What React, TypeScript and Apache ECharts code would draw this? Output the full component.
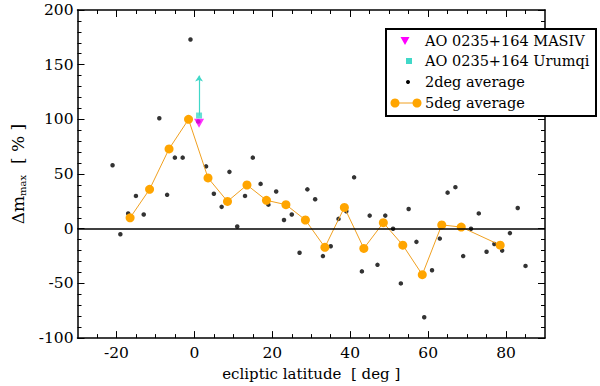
import React, { useEffect, useRef } from "react";
import * as echarts from "echarts";

// 2-degree averages
const avg2X = [-21, -19, -17, -15, -13, -9, -7, -5, -3, -1, 1, 3, 5, 7, 9, 11, 13, 15, 17, 19, 21, 23, 25, 27, 29, 31, 33, 35, 37, 39, 41, 43, 45, 47, 49, 51, 53, 55, 57, 59, 61, 63, 65, 67, 69, 71, 73, 75, 77, 79, 81, 83, 85];
const avg2Y = [58, -5, 14, 30, 13, 101, 31, 65, 65, 173, 98, 57, 32, 20, 52, 2, 30, 65, 41, 22, 34, 8, 13, -22, 36, 27, -25, -16, 9, 16, 47, -39, 12, -33, 12, 0, -50, 18, -12, -81, -38, -9, 33, 38, -25, 0, 14, -21, -14, -20, -4, 19, -34];

// 5-degree averages
const avg5X = [-16.5, -11.5, -6.5, -1.5, 3.5, 8.5, 13.5, 18.5, 23.5, 28.5, 33.5, 38.5, 43.5, 48.5, 53.5, 58.5, 63.5, 68.5, 78.5];
const avg5Y = [10, 36, 73, 100, 46.5, 25, 40, 26, 22, 8, -17, 19.5, -18, 5.5, -15, -42, 3.5, 1.5, -15];

// AO 0235+164
const masivPoint = [1.2, 96.5];
const urumqiPoint = [1.2, 103.5];
const urumqiUpper = 140;

// axes
const xMajorTicks = [-20, 0, 20, 40, 60, 80];
const xMinorTicks = [-25, -15, -10, -5, 5, 10, 15, 25, 30, 35, 45, 50, 55, 65, 70, 75, 85];

const legendNames = ["AO 0235+164 MASIV", "AO 0235+164 Urumqi", "2deg average", "5deg average"];

const FONT = "DejaVu Serif";

export default function App() {
  const ref = useRef<HTMLDivElement>(null);
  useEffect(() => {
    if (!ref.current) return;
    const chart = echarts.init(ref.current, null, { renderer: "svg" });
    const axisLine = { show: true, onZero: false, lineStyle: { color: "#000", width: 1.5 } };
    const hiddenLine = { show: false, onZero: false };
    const baseX = {
      type: "value",
      min: -30,
      max: 90,
      splitLine: { show: false },
      axisLine,
    };
    const baseY = {
      type: "value",
      min: -100,
      max: 200,
      interval: 50,
      splitLine: { show: false },
      axisLine,
      axisTick: { show: true, inside: true, length: 7, lineStyle: { color: "#000", width: 1 } },
      minorTick: { show: true, splitNumber: 5, length: 4, lineStyle: { color: "#000", width: 1 } },
    };
    const legendRows = [41, 61, 82, 103];
    const symX = 405;
    const textX = 425;
    chart.setOption({
      animation: false,
      backgroundColor: "#fff",
      textStyle: { fontFamily: FONT },
      grid: { left: 64, right: 55, top: 10, bottom: 40, containLabel: false },
      xAxis: [
        {
          ...baseX,
          position: "bottom",
          axisTick: { show: true, inside: true, length: 7, customValues: xMajorTicks, lineStyle: { color: "#000", width: 1 } },
          axisLabel: { show: true, customValues: xMajorTicks, color: "#000", fontFamily: FONT, fontSize: 15.5, margin: 7 },
          name: "ecliptic latitude  [ deg ]",
          nameLocation: "middle",
          nameGap: 25,
          nameTextStyle: { color: "#000", fontFamily: FONT, fontSize: 15 },
        },
        {
          ...baseX,
          position: "bottom",
          axisLine: hiddenLine,
          axisTick: { show: true, inside: true, length: 4, customValues: xMinorTicks, lineStyle: { color: "#000", width: 1 } },
          axisLabel: { show: false },
        },
        {
          ...baseX,
          position: "top",
          axisTick: { show: true, inside: true, length: 7, customValues: xMajorTicks, lineStyle: { color: "#000", width: 1 } },
          axisLabel: { show: false },
        },
        {
          ...baseX,
          position: "top",
          axisLine: hiddenLine,
          axisTick: { show: true, inside: true, length: 4, customValues: xMinorTicks, lineStyle: { color: "#000", width: 1 } },
          axisLabel: { show: false },
        },
      ],
      yAxis: [
        {
          ...baseY,
          position: "left",
          axisLabel: { show: true, color: "#000", fontFamily: FONT, fontSize: 15.5, margin: 4 },
          name: "{d|Δm}{s|max}{d|  [ % ]}",
          nameLocation: "middle",
          nameGap: 49,
          nameRotate: 90,
          nameTextStyle: {
            fontFamily: FONT,
            rich: {
              d: { fontFamily: FONT, fontSize: 17, color: "#000", lineHeight: 22 },
              s: { fontFamily: FONT, fontSize: 10, color: "#000", lineHeight: 22, padding: [9, 0, 0, 0] },
            },
          },
        },
        {
          ...baseY,
          position: "right",
          axisLabel: { show: false },
        },
      ],
      series: [
        {
          name: legendNames[2],
          type: "scatter",
          data: avg2X.map((x, i) => [x, avg2Y[i]]),
          symbol: "circle",
          symbolSize: 4.5,
          itemStyle: { color: "#000" },
          z: 3,
          markLine: {
            silent: true,
            symbol: ["none", "none"],
            label: { show: false },
            lineStyle: { color: "#000", width: 1.5, type: "solid" },
            data: [{ yAxis: 0 }],
          },
        },
        {
          name: legendNames[3],
          type: "line",
          data: avg5X.map((x, i) => [x, avg5Y[i]]),
          symbol: "circle",
          symbolSize: 9,
          showSymbol: true,
          lineStyle: { color: "#F0A020", width: 1 },
          itemStyle: { color: "#FFA500" },
          z: 4,
        },
        {
          name: legendNames[1],
          type: "scatter",
          data: [urumqiPoint],
          symbol: "rect",
          symbolSize: 6,
          itemStyle: { color: "#40D8C8" },
          z: 5,
          markLine: {
            silent: true,
            symbol: ["none", "arrow"],
            symbolSize: 6,
            label: { show: false },
            lineStyle: { color: "#40D8C8", width: 1.2, type: "solid" },
            data: [[{ coord: urumqiPoint }, { coord: [urumqiPoint[0], urumqiUpper] }]],
          },
        },
        {
          name: legendNames[0],
          type: "scatter",
          data: [masivPoint],
          symbol: "triangle",
          symbolRotate: 180,
          symbolSize: [10, 9],
          itemStyle: { color: "#FF00FF" },
          z: 6,
        },
      ],
      graphic: [
        {
          type: "rect",
          z: 100,
          shape: { x: 386, y: 29, width: 210, height: 87 },
          style: { fill: "#fff", stroke: "#000", lineWidth: 2 },
        },
        {
          type: "polygon",
          z: 101,
          shape: { points: [[symX - 4.5, legendRows[0] - 4], [symX + 4.5, legendRows[0] - 4], [symX, legendRows[0] + 4]] },
          style: { fill: "#FF00FF" },
        },
        {
          type: "rect",
          z: 101,
          shape: { x: symX + 1, y: legendRows[1] - 3, width: 6, height: 6 },
          style: { fill: "#40D8C8" },
        },
        {
          type: "circle",
          z: 101,
          shape: { cx: symX + 3, cy: legendRows[2], r: 2 },
          style: { fill: "#000" },
        },
        {
          type: "line",
          z: 101,
          shape: { x1: 395, y1: legendRows[3], x2: 417, y2: legendRows[3] },
          style: { stroke: "#F0A020", lineWidth: 1 },
        },
        {
          type: "circle",
          z: 102,
          shape: { cx: 395, cy: legendRows[3], r: 4.5 },
          style: { fill: "#FFA500" },
        },
        {
          type: "circle",
          z: 102,
          shape: { cx: 417, cy: legendRows[3], r: 4.5 },
          style: { fill: "#FFA500" },
        },
        ...legendNames.map((n, i) => ({
          type: "text",
          z: 102,
          x: textX,
          y: legendRows[i],
          style: {
            text: n,
            fill: "#000",
            font: `14.5px ${FONT}`,
            verticalAlign: "middle",
          },
        })),
      ],
    });
    return () => chart.dispose();
  }, []);
  return (
    <div
      ref={ref}
      style={{ position: "fixed", left: 0, top: 0, width: 600, height: 386, background: "#fff" }}
    />
  );
}
